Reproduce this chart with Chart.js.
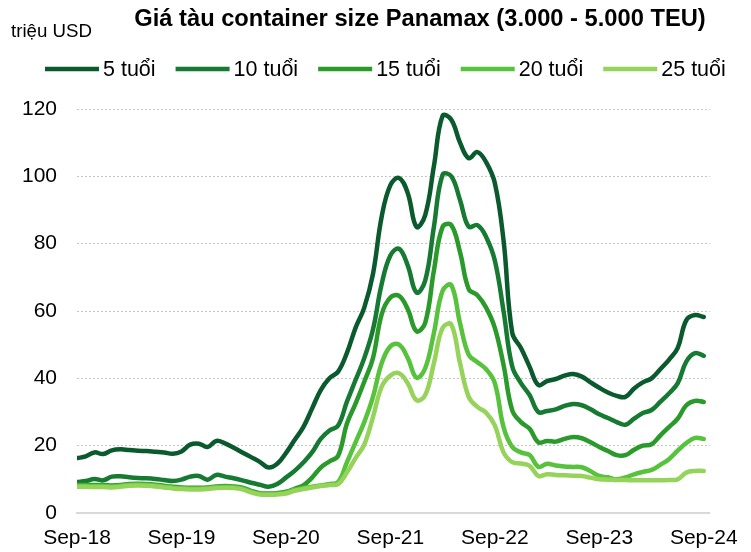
<!DOCTYPE html>
<html>
<head>
<meta charset="utf-8">
<script src="https://cdn.jsdelivr.net/npm/chart.js@4/dist/chart.umd.min.js"></script>
<style>
  html, body { margin: 0; padding: 0; background: #ffffff; }
  #wrap { width: 751px; height: 552px; }
</style>
</head>
<body>
<div id="wrap"><canvas id="c" width="751" height="552"></canvas></div>
<script>
const chartTitle = 'Giá tàu container size Panamax (3.000 - 5.000 TEU)';
const unitLabel = 'triệu USD';

const months = [
  'Sep-18','Oct-18','Nov-18','Dec-18','Jan-19','Feb-19','Mar-19','Apr-19','May-19','Jun-19','Jul-19','Aug-19',
  'Sep-19','Oct-19','Nov-19','Dec-19','Jan-20','Feb-20','Mar-20','Apr-20','May-20','Jun-20','Jul-20','Aug-20',
  'Sep-20','Oct-20','Nov-20','Dec-20','Jan-21','Feb-21','Mar-21','Apr-21','May-21','Jun-21','Jul-21','Aug-21',
  'Sep-21','Oct-21','Nov-21','Dec-21','Jan-22','Feb-22','Mar-22','Apr-22','May-22','Jun-22','Jul-22','Aug-22',
  'Sep-22','Oct-22','Nov-22','Dec-22','Jan-23','Feb-23','Mar-23','Apr-23','May-23','Jun-23','Jul-23','Aug-23',
  'Sep-23','Oct-23','Nov-23','Dec-23','Jan-24','Feb-24','Mar-24','Apr-24','May-24','Jun-24','Jul-24','Aug-24',
  'Sep-24'
];
const tickLabels = ['Sep-18','Sep-19','Sep-20','Sep-21','Sep-22','Sep-23','Sep-24'];
const seriesNames = ['5 tuổi','10 tuổi','15 tuổi','20 tuổi','25 tuổi'];

const age5 = [
  16.3,16.8,18.0,17.5,18.6,18.9,18.7,18.5,18.4,18.2,18.0,17.6,
  18.3,20.3,20.6,19.6,21.4,20.7,19.4,18.0,16.6,15.2,13.5,14.6,
  17.8,21.7,25.5,31.0,36.5,40.0,42.0,47.5,55.0,61.0,71.0,88.0,
  97.4,99.5,95.0,85.0,88.5,103.0,118.0,116.8,110.0,105.4,107.2,104.2,
  98.0,81.0,53.5,49.0,43.4,38.0,39.2,39.8,40.8,41.3,40.5,38.8,
  37.2,35.8,34.8,34.5,37.0,38.8,40.0,42.7,45.5,49.0,57.3,58.8,
  58.2
];
const age10 = [
  9.2,9.5,10.1,9.7,10.8,10.9,10.6,10.4,10.3,10.1,9.8,9.5,
  9.9,10.8,11.0,9.9,11.3,10.8,10.3,9.7,9.0,8.4,7.8,8.6,
  10.5,12.5,15.0,18.0,22.0,24.5,26.0,33.0,39.5,46.0,54.5,68.0,
  76.5,78.5,73.5,65.5,69.0,85.0,100.5,100.0,93.0,85.0,85.5,82.0,
  75.0,60.0,43.5,38.6,35.0,30.0,30.3,30.8,31.8,32.4,32.0,30.8,
  29.3,28.2,27.0,26.2,28.0,29.7,30.6,33.0,35.5,38.5,45.0,47.5,
  46.7
];
const age15 = [
  8.4,8.4,8.3,8.3,8.2,8.3,8.6,8.7,8.6,8.4,8.1,7.8,
  7.6,7.5,7.5,7.6,7.9,8.0,7.9,7.5,6.6,5.9,5.8,5.9,
  6.3,7.2,8.2,10.5,13.5,15.3,17.0,26.5,32.5,39.0,46.0,59.0,
  64.0,64.5,60.5,54.0,56.5,72.0,85.0,85.5,77.5,66.5,64.7,61.0,
  55.0,44.0,30.5,27.0,25.0,21.0,21.4,21.2,22.0,22.6,22.2,21.0,
  19.6,18.4,17.2,17.2,18.8,20.0,20.4,23.0,25.5,28.0,32.0,33.3,
  33.0
];
const age20 = [
  8.1,8.1,8.0,8.0,7.9,8.1,8.4,8.5,8.4,8.2,7.9,7.6,
  7.4,7.3,7.3,7.4,7.7,7.8,7.7,7.3,6.4,5.7,5.6,5.7,
  6.1,6.9,7.4,7.8,8.2,8.6,9.2,15.0,21.0,27.0,34.5,44.5,
  49.5,50.0,46.0,40.2,43.0,53.5,66.0,67.7,56.4,47.0,44.8,42.7,
  38.6,25.5,19.6,18.0,17.2,13.7,14.6,14.1,13.8,13.7,13.6,12.4,
  11.0,10.6,10.0,10.6,11.5,12.2,12.8,14.3,16.0,18.5,20.8,22.3,
  22.0
];
const age25 = [
  7.8,7.8,7.7,7.7,7.6,7.8,8.1,8.2,8.1,7.9,7.6,7.3,
  7.1,7.0,7.0,7.1,7.4,7.5,7.4,7.0,6.1,5.5,5.4,5.5,
  5.8,6.6,7.1,7.6,8.0,8.3,8.6,12.0,16.3,20.3,28.5,37.5,
  40.8,41.5,38.5,33.5,35.0,44.5,55.0,56.0,44.5,34.5,31.5,29.8,
  26.0,18.0,15.1,14.7,14.0,11.0,11.5,11.3,11.2,11.1,11.0,10.5,
  10.0,9.9,9.8,9.8,9.7,9.7,9.7,9.7,9.8,10.0,12.0,12.5,
  12.5
];

const seriesValues = [age5, age10, age15, age20, age25];
const seriesColors = ['#0b5a2e', '#177a33', '#2a9a2a', '#57c23c', '#95d35a'];

const FONT = '"Liberation Sans", Arial, sans-serif';

const datasets = seriesValues.map((vals, k) => ({
  label: seriesNames[k],
  data: vals.map((v, i) => ({ x: i, y: v })),
  borderColor: seriesColors[k],
  backgroundColor: seriesColors[k],
  borderWidth: 4.5,
  pointRadius: 0,
  pointHoverRadius: 0,
  tension: 0.4,
  fill: false,
  order: seriesValues.length - k,
  borderCapStyle: 'round',
  borderJoinStyle: 'round'
}));

const headerPlugin = {
  id: 'header',
  afterDraw(chart) {
    const ctx = chart.ctx;
    ctx.save();
    ctx.fillStyle = '#000000';
    ctx.textBaseline = 'middle';
    ctx.font = 'bold 23.7px ' + FONT;
    ctx.textAlign = 'center';
    ctx.fillText(chartTitle, 420, 19);
    ctx.font = '18.7px ' + FONT;
    ctx.textAlign = 'left';
    ctx.fillText(unitLabel, 11, 32);
    // legend
    ctx.font = '21.5px ' + FONT;
    let x = 45;
    const y = 69;
    seriesNames.forEach((name, k) => {
      ctx.strokeStyle = seriesColors[k];
      ctx.lineWidth = 4.5;
      ctx.lineCap = 'butt';
      ctx.beginPath();
      ctx.moveTo(x, y);
      ctx.lineTo(x + 54, y);
      ctx.stroke();
      ctx.fillStyle = '#000000';
      ctx.fillText(name, x + 58, y + 1);
      x += 58 + ctx.measureText(name).width + 20;
    });
    ctx.restore();
  }
};

new Chart(document.getElementById('c'), {
  type: 'line',
  data: { datasets },
  options: {
    responsive: false,
    devicePixelRatio: 1,
    animation: false,
    layout: { padding: { top: 109, right: 41, bottom: 2, left: 0 } },
    plugins: {
      legend: { display: false },
      title: { display: false },
      tooltip: { enabled: false }
    },
    scales: {
      x: {
        type: 'linear',
        min: 0,
        max: 72.7,
        afterBuildTicks(scale) {
          scale.ticks = tickLabels.map(l => ({ value: months.indexOf(l) }));
        },
        afterFit(scale) { scale.height = 37; },
        ticks: {
          autoSkip: false,
          maxRotation: 0,
          padding: 13,
          color: '#000000',
          font: { family: FONT, size: 21 },
          callback: (v) => months[v]
        },
        grid: { display: false, drawTicks: false },
        border: { display: true, color: '#d9d9d9', width: 2 }
      },
      y: {
        min: 0,
        max: 120,
        afterFit(scale) { scale.width = 77; },
        ticks: {
          stepSize: 20,
          padding: 20,
          color: '#000000',
          font: { family: FONT, size: 21 }
        },
        grid: {
          drawTicks: false,
          lineWidth: 1,
          color: (ctx) => (ctx.tick && ctx.tick.value === 0) ? 'rgba(0,0,0,0)' : '#c4c4c4'
        },
        border: { display: false, dash: [2, 2] }
      }
    }
  },
  plugins: [headerPlugin]
});
</script>
</body>
</html>
